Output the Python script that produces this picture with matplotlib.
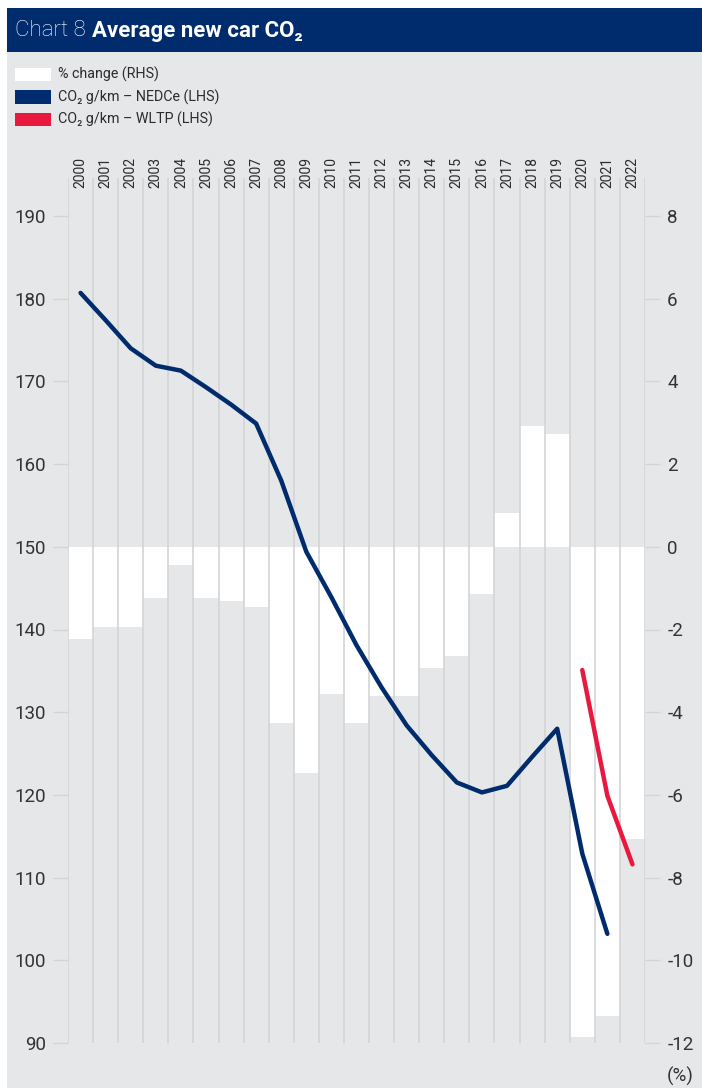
import matplotlib
matplotlib.use('Agg')
import matplotlib.pyplot as plt
from matplotlib.patches import Rectangle
import numpy as np

plt.rcParams['font.family'] = ['Roboto', 'DejaVu Sans']

# data
years = list(range(2000, 2023))
pct_change = [-2.24, -1.93, -1.93, -1.23, -0.43, -1.23, -1.32, -1.45, -4.26, -5.46,
              -3.55, -4.25, -3.62, -3.62, -2.92, -2.64, -1.13, 0.82, 2.92, 2.73,
              -11.85, -11.35, -7.06]
nedc_years = list(range(2000, 2022))
nedc_co2 = [180.7, 177.4, 174.0, 171.9, 171.3, 169.3, 167.2, 164.9, 158.0, 149.4,
            143.9, 138.1, 133.0, 128.4, 124.8, 121.5, 120.3, 121.1, 124.6, 128.0,
            112.9, 103.2]
wltp_years = [2020, 2021, 2022]
wltp_co2 = [135.1, 119.9, 111.6]
left_ticks = [90, 100, 110, 120, 130, 140, 150, 160, 170, 180, 190]
right_ticks = [-12, -10, -8, -6, -4, -2, 0, 2, 4, 6, 8]
legend_labels = ['% change (RHS)', 'CO\u2082 g/km \u2013 NEDCe (LHS)',
                 'CO\u2082 g/km \u2013 WLTP (LHS)']

NAVY = '#002b6c'
RED = '#e8183f'
BG = '#e6e7e9'
GRID = '#d3d4d6'
TXT = '#2b2b2b'

W, H = 702, 1088
fig = plt.figure(figsize=(W / 100, H / 100), dpi=100)

# grey panel and title bar (behind the axes)
fig.patches.append(Rectangle((7 / W, 0), 1, (H - 52) / H, transform=fig.transFigure,
                             facecolor=BG, edgecolor='none', zorder=-5))
fig.patches.append(Rectangle((7 / W, 1 - 52 / H), 1, 44 / H, transform=fig.transFigure,
                             facecolor=NAVY, edgecolor='none', zorder=-5))

t1 = fig.text(15 / W, 1 - 31 / H, 'Chart 8', color='white', fontsize=16,
              fontweight='light', va='center')
fig.canvas.draw()
bb = t1.get_window_extent(renderer=fig.canvas.get_renderer())
fig.text(bb.x1 / W + 6 / W, 1 - 31 / H, 'Average new car CO\u2082', color='white',
         fontsize=16, fontweight='bold', va='center')

# legend, drawn by hand so the swatches sit where the reference has them
for i, (lab, col) in enumerate(zip(legend_labels, ['white', NAVY, RED])):
    yc = 74.5 + i * 22.5
    fig.patches.append(Rectangle((15 / W, 1 - (yc + 6.5) / H), 36 / W, 13 / H,
                                 transform=fig.transFigure, facecolor=col,
                                 edgecolor='none', zorder=1))
    fig.text(58 / W, 1 - yc / H, lab, fontsize=10.3, color=TXT, va='center')

# axes: bars on the base axes (ticks right), lines on the twin (ticks left)
top_px, bot_px = 178, 1043
ax = fig.add_axes([68 / W, 1 - bot_px / H, (645 - 68) / W, (bot_px - top_px) / H])
ax.set_facecolor('none')
ax2 = ax.twinx()
ax2.set_facecolor('none')

x = np.arange(len(years))
ax.bar(x, pct_change, width=1.0, color='white', edgecolor='none', zorder=2)
for b in np.arange(len(years) + 1) - 0.5:
    ax.axvline(b, color=GRID, lw=1.2, zorder=3)

px_per_pct = (bot_px - 216) / 20.0
ax.set_ylim(-12, 8 + (216 - top_px) / px_per_pct)
px_per_g = (bot_px - 216) / 100.0
ax2.set_ylim(90, 190 + (216 - top_px) / px_per_g)
ax.set_xlim(-0.5, len(years) - 0.5)

nx = [years.index(y) for y in nedc_years]
wx = [years.index(y) for y in wltp_years]
ax2.plot(nx, nedc_co2, color=NAVY, lw=3.2, solid_capstyle='round', solid_joinstyle='round')
ax2.plot(wx, wltp_co2, color=RED, lw=3.2, solid_capstyle='round', solid_joinstyle='round')

ax.yaxis.tick_right()
ax2.yaxis.tick_left()
ax.set_yticks(right_ticks)
ax.set_yticklabels([str(t) if t >= 0 else '-' + str(-t) for t in right_ticks])
ax2.set_yticks(left_ticks)
for a in (ax, ax2):
    a.tick_params(axis='y', length=11, width=1, color=GRID, labelcolor='#333333',
                  labelsize=13.5, pad=5)
    for s in a.spines.values():
        s.set_visible(False)
ax.set_xticks([])
ax2.set_xticks([])

# year labels above the columns
for i, y in enumerate(years):
    ax.text(i, 1 + (top_px - 188) / (bot_px - top_px), str(y), rotation=90,
            ha='center', va='bottom', fontsize=10, color=TXT,
            transform=ax.get_xaxis_transform())

fig.text(694 / W, 1 - 1076 / H, '(%)', ha='right', va='center', fontsize=13.5,
         color='#333333')

fig.savefig('out.png', dpi=100)
